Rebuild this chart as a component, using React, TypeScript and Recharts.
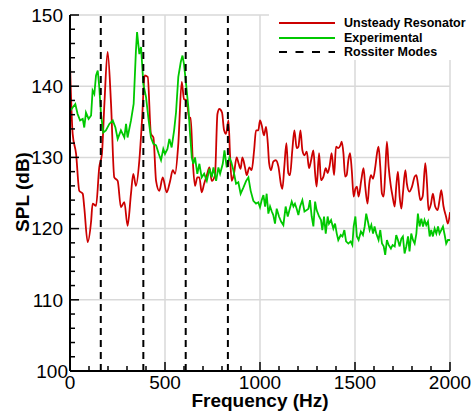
import { LineChart, Line, XAxis, YAxis, CartesianGrid, ReferenceLine, Legend } from "recharts"

const FONT = "'Liberation Sans', Arial, Helvetica, sans-serif"
const RED = "#cc0000"
const GREEN = "#00c800"

// Unsteady resonator model (red)
const resonatorFreq = [
  0, 14, 32, 49, 67, 75, 93, 111, 119, 137,
  154, 168, 181, 198, 216, 233, 251, 268, 286, 303,
  321, 333, 347, 365, 379, 393, 409, 426, 439, 453,
  470, 488, 509, 527, 541, 553, 570, 588, 600, 614,
  628, 635, 646, 658, 670, 681, 693, 706, 720, 734,
  746, 763, 776, 786, 800, 811, 821, 834, 842, 851,
  863, 877, 888, 898, 907, 921, 930, 944, 956, 969,
  979, 991, 1000, 1009, 1021, 1032, 1041, 1048, 1058, 1070,
  1083, 1097, 1111, 1118, 1128, 1139, 1149, 1158, 1170, 1181,
  1193, 1202, 1213, 1223, 1234, 1246, 1258, 1269, 1281, 1290,
  1298, 1311, 1321, 1334, 1346, 1356, 1367, 1377, 1390, 1400,
  1412, 1423, 1430, 1439, 1448, 1456, 1465, 1474, 1483, 1493,
  1502, 1510, 1519, 1533, 1545, 1554, 1566, 1575, 1584, 1595,
  1607, 1616, 1624, 1633, 1642, 1651, 1659, 1668, 1677, 1689,
  1698, 1709, 1717, 1726, 1735, 1744, 1752, 1765, 1773, 1786,
  1800, 1814, 1823, 1831, 1844, 1856, 1870, 1879, 1887, 1900,
  1910, 1922, 1935, 1945, 1954, 1966, 1979, 1989, 2000,
]
const resonatorSpl = [
  143.1, 133.3, 130.5, 125.3, 124.9, 123, 118.1, 121, 123.5, 123.2,
  128.6, 130.5, 137.5, 144.8, 137.5, 127.2, 126.7, 123, 123.7, 120.4,
  124.9, 127.7, 126, 129.6, 135.2, 141.5, 141.3, 133.3, 132.8, 126.7,
  125.3, 127.2, 125.1, 126.7, 128.2, 127.7, 131.9, 140.6, 138.2, 138,
  135.4, 135.6, 129.6, 126, 127.2, 127.2, 125.1, 126.3, 127.5, 128.6,
  126.7, 127.5, 136.1, 136.8, 136.3, 133.8, 133.3, 135.2, 130.5, 126.7,
  127.7, 130, 129.1, 128.4, 130, 128.6, 127.5, 128.6, 128.2, 131,
  133.8, 133.8, 135.2, 134.5, 133.1, 134.3, 132, 129.2, 128.2, 129.4,
  129.6, 128.7, 126.1, 125.6, 128.7, 132, 127.8, 127.5, 131, 133.8,
  131.3, 131.5, 133.8, 131, 130.3, 130.8, 128.5, 129.6, 131, 127.8,
  125.9, 130.6, 126.8, 127.3, 128.5, 127.8, 128.9, 130.6, 127.5, 131.5,
  131.3, 131.7, 132.2, 130.6, 127.3, 127.5, 129.6, 130.6, 128.2, 124.5,
  125.6, 125.9, 124.5, 126.8, 128.5, 125.9, 123.5, 126.3, 127.5, 127,
  128.7, 130.6, 131.5, 128.7, 124.9, 124.5, 127.8, 132.2, 128.7, 125.9,
  124.5, 123.1, 125.9, 128, 124.5, 122.8, 124.9, 128.2, 126.3, 125.2,
  125.9, 127.3, 127.5, 126.3, 124, 124.5, 129.2, 126.3, 122.6, 123.5,
  124.9, 123.1, 122.6, 124, 125.4, 123.1, 121.7, 120.7, 122.3,
]

// Experimental measurement (green)
const experimentFreq = [
  0, 14, 28, 40, 53, 67, 75, 84, 98, 111,
  119, 128, 137, 146, 154, 163, 175, 189, 207, 225,
  239, 251, 268, 286, 295, 303, 321, 335, 347, 353,
  365, 374, 386, 400, 414, 426, 439, 453, 467, 479,
  491, 500, 513, 523, 535, 548, 558, 570, 583, 592,
  600, 611, 623, 632, 641, 649, 658, 670, 681, 693,
  706, 720, 734, 746, 755, 769, 781, 790, 804, 813,
  825, 839, 849, 860, 874, 886, 898, 913, 927, 939,
  951, 965, 979, 991, 1000, 1009, 1018, 1027, 1035, 1044,
  1053, 1062, 1070, 1079, 1088, 1100, 1111, 1123, 1135, 1146,
  1155, 1167, 1176, 1184, 1193, 1202, 1211, 1223, 1234, 1246,
  1255, 1263, 1272, 1281, 1290, 1298, 1311, 1321, 1328, 1337,
  1346, 1356, 1363, 1374, 1386, 1395, 1404, 1412, 1425, 1434,
  1444, 1453, 1465, 1477, 1486, 1493, 1502, 1510, 1519, 1531,
  1542, 1551, 1559, 1568, 1577, 1586, 1595, 1603, 1612, 1624,
  1633, 1642, 1651, 1659, 1668, 1677, 1689, 1698, 1709, 1717,
  1726, 1735, 1744, 1752, 1761, 1770, 1779, 1787, 1796, 1805,
  1814, 1823, 1831, 1840, 1849, 1858, 1866, 1875, 1884, 1893,
  1901, 1910, 1919, 1928, 1937, 1945, 1954, 1963, 1972, 1980,
  1989, 2000,
]
const experimentSpl = [
  136.5, 137, 137.5, 136.1, 135.2, 135.4, 134.2, 136.3, 135.4, 135.9,
  139.4, 138.9, 141.5, 142.2, 139.9, 136.1, 133.5, 133.8, 134.7, 135.2,
  134.2, 132.6, 133.8, 132.8, 134.7, 132.8, 135.2, 137.5, 145, 147.6,
  144.5, 145.5, 140.3, 138.5, 135.2, 132.8, 131.9, 131.7, 130.5, 129.6,
  131.2, 130.5, 131.2, 132.6, 131.4, 133.8, 136.3, 141.3, 143.4, 144.3,
  143.1, 140.3, 137, 133.3, 130, 129.1, 130, 127.7, 129.1, 127.2,
  127.7, 126.7, 128.4, 127.2, 128.6, 126.7, 128.6, 127.7, 129.1, 131,
  128.6, 130, 129.3, 128.2, 126.3, 126.5, 124.9, 125.8, 126.7, 127.2,
  125.3, 123.9, 123.5, 123.7, 123, 124, 124.7, 123.1, 124.9, 122.1,
  123.1, 122.4, 121.9, 120.7, 122.8, 121.7, 121, 120.5, 123.1, 121.7,
  122.6, 123.8, 123.1, 123.5, 122.8, 121.9, 123.1, 124, 122.4, 122.6,
  122.8, 124, 121.7, 120.3, 123.8, 122.6, 121.7, 121.2, 119.8, 121.7,
  119.3, 121.7, 120.7, 121.2, 120, 120.7, 119.3, 118.4, 119.1, 118.9,
  119.8, 118.2, 117.9, 118.2, 117.7, 120.3, 121.7, 118.9, 118.4, 119.6,
  119.1, 120.3, 122.1, 121, 119.8, 120.5, 119.3, 120.3, 119.3, 118.4,
  119.8, 117.9, 117.5, 116.3, 118.4, 117.7, 117.2, 117.7, 117.5, 119.1,
  118.4, 117.5, 118.6, 118.9, 116.5, 117.5, 118.9, 116.8, 119.3, 118.4,
  117.9, 119.3, 122.1, 120.3, 121.4, 120.3, 121.2, 120.5, 121, 118.9,
  119.8, 118.9, 120, 119.3, 120.3, 119.3, 119.8, 120.3, 119.1, 117.9,
  118.4, 118.4,
]

const rossiterModes = [162, 386, 609, 831]

const freqTicks = [0, 100, 200, 300, 400, 500, 600, 700, 800, 900, 1000, 1100, 1200, 1300, 1400, 1500, 1600, 1700, 1800, 1900, 2000]
const freqLabels = [0, 500, 1000, 1500, 2000]
const splTicks = [100, 102, 104, 106, 108, 110, 112, 114, 116, 118, 120, 122, 124, 126, 128, 130, 132, 134, 136, 138, 140, 142, 144, 146, 148, 150]
const splLabels = [100, 110, 120, 130, 140, 150]

const seriesNames = ["Unsteady Resonator", "Experimental", "Rossiter Modes"]

const resonatorData = resonatorFreq.map((freq, i) => ({ freq, spl: resonatorSpl[i] }))
const experimentData = experimentFreq.map((freq, i) => ({ freq, spl: experimentSpl[i] }))

function FreqTick({ x, y, payload }: any) {
  const major = freqLabels.includes(payload.value)
  return (
    <g>
      <line x1={x} y1={y} x2={x} y2={y - (major ? 9 : 5)} stroke="#000" strokeWidth={1.5} />
      {major && (
        <text x={x} y={y + 18} textAnchor="middle" fontSize={19} fontFamily={FONT} fill="#000">
          {payload.value}
        </text>
      )}
    </g>
  )
}

function SplTick({ x, y, payload }: any) {
  const major = splLabels.includes(payload.value)
  const dx = payload.value === 100 ? -2 : -7
  return (
    <g>
      <line x1={x} y1={y} x2={x + (major ? 9 : 5)} y2={y} stroke="#000" strokeWidth={1.5} />
      {major && (
        <text x={x + dx} y={y} dy="0.36em" textAnchor="end" fontSize={19} fontFamily={FONT} fill="#000">
          {payload.value}
        </text>
      )}
    </g>
  )
}

function FreqTitle(props: any) {
  const vb = props.viewBox || { x: 70, y: 371, width: 380 }
  return (
    <text x={vb.x + vb.width / 2} y={vb.y + 36} textAnchor="middle" fontSize={19} fontWeight={700} fontFamily={FONT} fill="#000">
      Frequency (Hz)
    </text>
  )
}

function SplTitle(props: any) {
  const vb = props.viewBox || { x: 0, y: 15, height: 356 }
  const cx = vb.x + 29
  const cy = vb.y + vb.height / 2 - 1
  return (
    <text x={cx} y={cy} transform={`rotate(-90 ${cx} ${cy})`} textAnchor="middle" fontSize={19} fontWeight={700} fontFamily={FONT} fill="#000">
      SPL (dB)
    </text>
  )
}

function LegendBox() {
  const rows = [
    { name: seriesNames[0], color: RED, dash: undefined },
    { name: seriesNames[1], color: GREEN, dash: undefined },
    { name: seriesNames[2], color: "#000", dash: "8 8.5" },
  ]
  return (
    <div style={{ background: "#fff", width: 183, height: 60, paddingTop: 16, boxSizing: "border-box", fontFamily: FONT, fontWeight: 700, fontSize: 12.5, color: "#000" }}>
      {rows.map((r) => (
        <div key={r.name} style={{ display: "flex", alignItems: "center", height: 14.5, whiteSpace: "nowrap" }}>
          <svg width={56} height={4} style={{ marginLeft: 10, marginRight: 9, flex: "none" }}>
            <line x1={0} y1={2} x2={56} y2={2} stroke={r.color} strokeWidth={r.dash ? 2 : 1.8} strokeDasharray={r.dash} />
          </svg>
          <span>{r.name}</span>
        </div>
      ))}
    </div>
  )
}

export default function App() {
  return (
    <div style={{ position: "absolute", left: 0, top: 0, width: 474, height: 419, background: "#fff" }}>
      <LineChart width={474} height={419} margin={{ top: 15, right: 24, bottom: 0, left: 0 }}>
        <CartesianGrid
          stroke="#d9d9d9"
          strokeWidth={1.5}
          horizontalValues={splLabels.slice(1)}
          verticalValues={freqLabels.slice(1)}
        />
        <XAxis
          type="number"
          dataKey="freq"
          domain={[0, 2000]}
          ticks={freqTicks}
          interval={0}
          allowDataOverflow
          height={48}
          tickLine={false}
          tickSize={0}
          tickMargin={0}
          tick={<FreqTick />}
          axisLine={{ stroke: "#000", strokeWidth: 2 }}
          label={<FreqTitle />}
        />
        <YAxis
          type="number"
          domain={[100, 150]}
          ticks={splTicks}
          interval={0}
          allowDataOverflow
          width={70}
          tickLine={false}
          tickSize={0}
          tickMargin={0}
          tick={<SplTick />}
          axisLine={{ stroke: "#000", strokeWidth: 2 }}
          label={<SplTitle />}
        />
        <Legend
          layout="horizontal"
          verticalAlign="middle"
          align="center"
          content={<LegendBox />}
          wrapperStyle={{ left: 269, top: 0, width: 183, height: 60 }}
        />
        <Line
          data={resonatorData}
          dataKey="spl"
          name={seriesNames[0]}
          type="monotone"
          stroke={RED}
          strokeWidth={1.8}
          dot={false}
          activeDot={false}
          isAnimationActive={false}
        />
        <Line
          data={experimentData}
          dataKey="spl"
          name={seriesNames[1]}
          type="linear"
          stroke={GREEN}
          strokeWidth={1.8}
          dot={false}
          activeDot={false}
          isAnimationActive={false}
        />
        {rossiterModes.map((f) => (
          <ReferenceLine key={f} x={f} stroke="#000" strokeWidth={2} strokeDasharray="7 5" />
        ))}
      </LineChart>
    </div>
  )
}
